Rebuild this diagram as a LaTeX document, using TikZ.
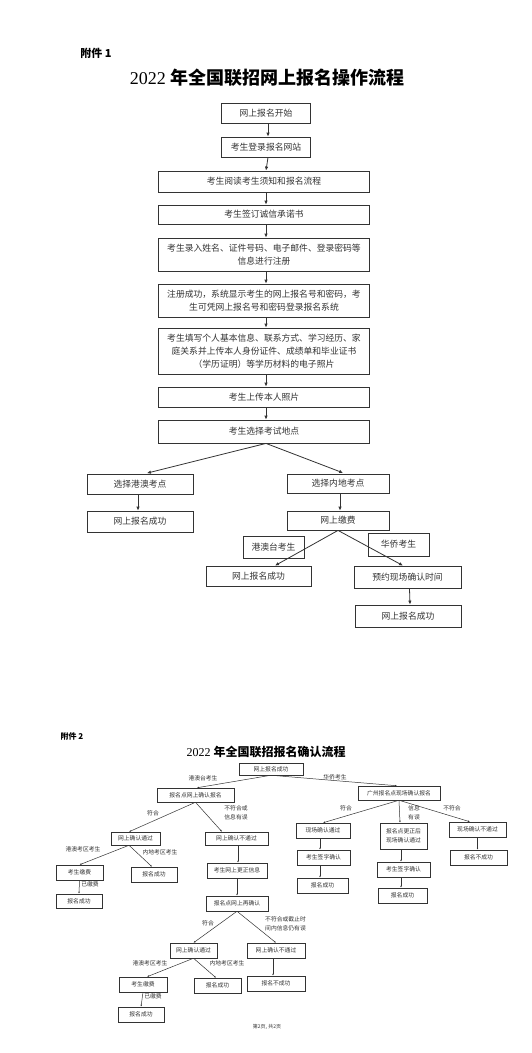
\documentclass[tikz,border=0pt]{standalone}
\usepackage{fontspec}
\setmainfont{Liberation Serif}
\newfontfamily\cjk{Noto Sans CJK SC}
\usetikzlibrary{arrows.meta}
\definecolor{ink}{HTML}{333333}
\begin{document}
\begin{tikzpicture}[x=1pt,y=-1pt,
  boxa/.style={draw=ink,line width=0.8pt,rectangle,inner sep=0pt,align=center,text=ink,font=\cjk\fontsize{8.8}{13}\selectfont},
  boxb/.style={draw=ink,line width=0.5pt,rectangle,inner sep=0pt,align=center,text=ink,font=\cjk\fontsize{5.8}{9.5}\selectfont},
  arra/.style={draw=ink,line width=0.8pt,-{Latex[length=4pt,width=3.5pt]}},
  arrb/.style={draw=ink,line width=0.5pt,-{Latex[length=2pt,width=1.6pt]}},
  lab/.style={text=ink,inner sep=0pt,align=left,font=\cjk\fontsize{5.8}{9.5}\selectfont}]
\useasboundingbox (0,0) rectangle (532,1053);
\fill[white] (0,0) rectangle (532,1053);
% ---------- Part 1 ----------
\node[text=black,inner sep=0pt,font=\cjk\bfseries\fontsize{11}{13}\selectfont] (att1) at (96,53) {附件 1};
\node[text=black,inner sep=0pt,font=\fontsize{18}{20}\selectfont] (title1) at (267,78) {2022 {\cjk\bfseries 年全国联招网上报名操作流程}};
\node[boxa,minimum width=89,minimum height=20] (n1) at (266,113) {网上报名开始};
\node[boxa,minimum width=89,minimum height=20] (n2) at (266,147) {考生登录报名网站};
\node[boxa,minimum width=211,minimum height=21] (n3) at (264,181.5) {考生阅读考生须知和报名流程};
\node[boxa,minimum width=211,minimum height=19] (n4) at (264,214.5) {考生签订诚信承诺书};
\node[boxa,minimum width=211,minimum height=33] (n5) at (264,254.5) {考生录入姓名、证件号码、电子邮件、登录密码等\\信息进行注册};
\node[boxa,minimum width=211,minimum height=33] (n6) at (264,300.5) {注册成功，系统显示考生的网上报名号和密码，考\\生可凭网上报名号和密码登录报名系统};
\node[boxa,minimum width=211,minimum height=46] (n7) at (264,351) {考生填写个人基本信息、联系方式、学习经历、家\\庭关系并上传本人身份证件、成绩单和毕业证书\\（学历证明）等学历材料的电子照片};
\node[boxa,minimum width=211,minimum height=20] (n8) at (264,397) {考生上传本人照片};
\node[boxa,minimum width=211,minimum height=23] (n9) at (264,431.5) {考生选择考试地点};
\foreach \a/\b in {n1/n2,n2/n3,n3/n4,n4/n5,n5/n6,n6/n7,n7/n8,n8/n9}
  \draw[arra] ([xshift=2pt]\a.south) -- ([xshift=2pt]\b.north);
\node[boxa,minimum width=106,minimum height=20] (a) at (140,484) {选择港澳考点};
\node[boxa,minimum width=102,minimum height=19] (b) at (338,483.5) {选择内地考点};
\node[boxa,minimum width=106,minimum height=21] (c) at (140,521.5) {网上报名成功};
\node[boxa,minimum width=102,minimum height=19] (d) at (338,520.5) {网上缴费};
\node[boxa,line width=1pt,minimum width=61,minimum height=22] (e) at (273.5,547) {港澳台考生};
\node[boxa,line width=1pt,minimum width=61,minimum height=23] (f) at (398.5,544.5) {华侨考生};
\node[boxa,minimum width=105,minimum height=20] (g) at (258.5,576) {网上报名成功};
\node[boxa,minimum width=107,minimum height=22] (h) at (407.5,577) {预约现场确认时间};
\node[boxa,minimum width=106,minimum height=22] (i) at (408,616) {网上报名成功};
\draw[arra,shorten >=2pt] ([xshift=2pt]n9.south) -- ([xshift=5pt]a.north);
\draw[arra,shorten >=2pt] ([xshift=2pt]n9.south) -- ([xshift=7pt]b.north);
\draw[arra] ([xshift=-2pt]a.south) -- ([xshift=-2pt]c.north);
\draw[arra] ([xshift=2pt]b.south) -- ([xshift=2pt]d.north);
\draw[arra] (d.south) -- ([xshift=16.5pt]g.north);
\draw[arra] (d.south) -- ([xshift=-4.5pt]h.north);
\draw[arra] ([xshift=2pt]h.south) -- ([xshift=2pt]i.north);
% ---------- Part 2 ----------
\node[text=black,inner sep=0pt,font=\cjk\bfseries\fontsize{8}{10}\selectfont] (att2) at (72,736) {附件 2};
\node[text=black,inner sep=0pt,font=\fontsize{12}{14}\selectfont] (title2) at (266,752) {2022 {\cjk\bfseries 年全国联招报名确认流程}};
\node[boxb,minimum width=64,minimum height=12] (p0) at (271,769) {网上报名成功};
\node[boxb,minimum width=77,minimum height=14] (p1) at (195.5,795) {报名点网上确认报名};
\node[boxb,minimum width=82,minimum height=14] (p2) at (399,793) {广州报名点现场确认报名};
\node[lab] (l1) at (203,778) {港澳台考生};
\node[lab] (l2) at (335,777) {华侨考生};
\draw[arrb] (p0.south) -- ([xshift=1.5pt]p1.north);
\draw[arrb] (p0.south) -- ([xshift=-2pt]p2.north);
% left branch
\node[boxb,minimum width=49,minimum height=13] (q1) at (135.5,838.5) {网上确认通过};
\node[boxb,minimum width=63,minimum height=13] (q2) at (236.5,838.5) {网上确认不通过};
\draw[arrb] (p1.south) -- ([xshift=-6.5pt]q1.north);
\draw[arrb] (p1.south) -- ([xshift=-14.5pt]q2.north);
\node[lab] (l3) at (153,813) {符合};
\node[lab] (l4) at (236,813) {不符合或\\信息有误};
\node[boxb,minimum width=47,minimum height=15] (q3) at (79.5,872.5) {考生缴费};
\node[boxb,minimum width=46,minimum height=15] (q4) at (154,874.5) {报名成功};
\node[lab] (l5) at (83,849) {港澳考区考生};
\node[lab] (l6) at (160,852) {内地考区考生};
\draw[arrb] ([xshift=-6.5pt]q1.south) -- (q3.north);
\draw[arrb] ([xshift=-6.5pt]q1.south) -- ([xshift=-2pt]q4.north);
\node[boxb,minimum width=46,minimum height=14] (q5) at (79,901) {报名成功};
\node[lab] (l7) at (90,884) {已缴费};
\draw[arrb] (q3.south) -- (q5.north);
\node[boxb,minimum width=60,minimum height=15] (q6) at (237,870.5) {考生网上更正信息};
\node[boxb,minimum width=62,minimum height=15] (q7) at (237,903.5) {报名点网上再确认};
\draw[arrb] ([xshift=1.5pt]q2.south) -- ([xshift=1pt]q6.north);
\draw[arrb] (q6.south) -- (q7.north);
\node[boxb,minimum width=47,minimum height=15] (r1) at (193.5,950.5) {网上确认通过};
\node[boxb,minimum width=58,minimum height=15] (r2) at (276,950.5) {网上确认不通过};
\draw[arrb] (q7.south) -- (r1.north);
\draw[arrb] (q7.south) -- (r2.north);
\node[lab] (l8) at (208,923) {符合};
\node[lab] (l9) at (285.5,924) {不符合或截止时\\间内信息仍有误};
\node[boxb,minimum width=48,minimum height=15] (r3) at (143,984.5) {考生缴费};
\node[boxb,minimum width=47,minimum height=15] (r4) at (217.5,985.5) {报名成功};
\node[lab] (l10) at (150,963) {港澳考区考生};
\node[lab] (l11) at (227,963) {内地考区考生};
\draw[arrb] (r1.south) -- ([xshift=4pt]r3.north);
\draw[arrb] (r1.south) -- ([xshift=-1.5pt]r4.north);
\node[boxb,minimum width=46,minimum height=15] (r5) at (141,1014.5) {报名成功};
\node[lab] (l12) at (153,996) {已缴费};
\draw[arrb] (r3.south) -- (r5.north);
\node[boxb,minimum width=58,minimum height=15] (r6) at (276,983.5) {报名不成功};
\draw[arrb] ([xshift=-3pt]r2.south) -- ([xshift=-3pt]r6.north);
\node[text=ink,inner sep=0pt,font=\cjk\fontsize{5}{6}\selectfont] (pg) at (267,1027) {第2页, 共2页};
% right branch
\node[boxb,minimum width=54,minimum height=15] (s1) at (323,830.5) {现场确认通过};
\node[boxb,minimum width=47,minimum height=26] (s2) at (403.5,836) {报名点更正后\\现场确认通过};
\node[boxb,minimum width=57,minimum height=15] (s3) at (477.5,829.5) {现场确认不通过};
\draw[arrb] (p2.south) -- (s1.north);
\draw[arrb] (p2.south) -- ([xshift=-3.5pt]s2.north);
\draw[arrb] (p2.south) -- ([xshift=-7.5pt]s3.north);
\node[lab] (l13) at (346,808) {符合};
\node[lab] (l14) at (414,813) {信息\\有误};
\node[lab] (l15) at (452,808) {不符合};
\node[boxb,minimum width=53,minimum height=15] (s4) at (323.5,857.5) {考生签字确认};
\node[boxb,minimum width=51,minimum height=15] (s5) at (322.5,885.5) {报名成功};
\node[boxb,minimum width=53,minimum height=15] (s6) at (403.5,869.5) {考生签字确认};
\node[boxb,minimum width=49,minimum height=15] (s7) at (402.5,895.5) {报名成功};
\node[boxb,minimum width=57,minimum height=15] (s8) at (478.5,857.5) {报名不成功};
\draw[arrb] ([xshift=-3pt]s1.south) -- ([xshift=-3.5pt]s4.north);
\draw[arrb] ([xshift=-3.5pt]s4.south) -- ([xshift=-2.5pt]s5.north);
\draw[arrb] ([xshift=-2.5pt]s2.south) -- ([xshift=-2.5pt]s6.north);
\draw[arrb] ([xshift=-2.5pt]s6.south) -- ([xshift=-1.5pt]s7.north);
\draw[arrb] (s3.south) -- ([xshift=-1pt]s8.north);
\end{tikzpicture}
\end{document}
